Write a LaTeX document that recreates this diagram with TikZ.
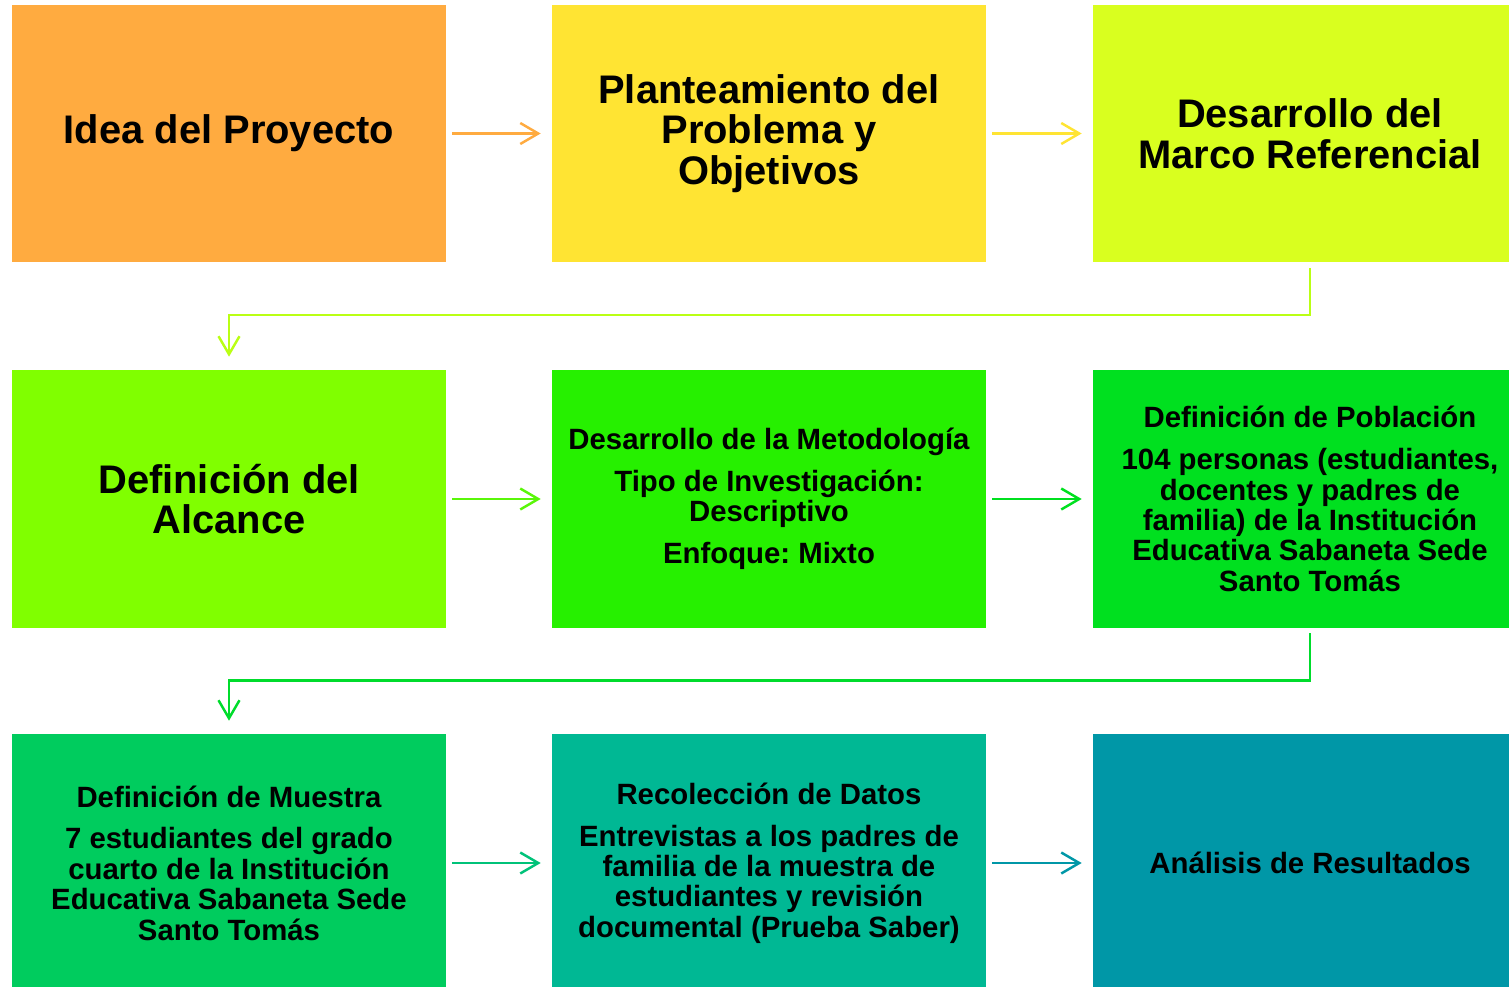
\documentclass[tikz,border=0pt]{standalone}
\usepackage{fontspec}
\setmainfont{Liberation Sans}
\usepackage{xcolor}
\usetikzlibrary{arrows.meta, positioning}

\definecolor{cIdea}{HTML}{FFAB40}
\definecolor{cProblema}{HTML}{FFE433}
\definecolor{cMarco}{HTML}{D9FF1F}
\definecolor{cAlcance}{HTML}{80FF00}
\definecolor{cMetodo}{HTML}{26F000}
\definecolor{cPoblacion}{HTML}{00E01F}
\definecolor{cMuestra}{HTML}{00CC5E}
\definecolor{cDatos}{HTML}{00B894}
\definecolor{cAnalisis}{HTML}{0097A7}

\begin{document}
\frenchspacing
\begin{tikzpicture}[
    x=0.02cm, y=-0.02cm,
    fase/.style={rectangle, minimum width=8.68cm, minimum height=5.16cm, inner sep=0pt, align=center, font=\bfseries\fontsize{22.7}{23.2}\selectfont},
    detalle/.style={fase, font=\bfseries\fontsize{16.7}{17.3}\selectfont},
    arrow/.style={-{Straight Barb[length=0.36cm, width=0.42cm]}, line width=1.4pt, shorten <=0.12cm, shorten >=0.22cm},
    elbow/.style={arrow, shorten <=0.1cm, shorten >=0.26cm}
]
    \useasboundingbox (0,0) rectangle (1509,987);
    \clip (0,0) rectangle (1509,987);

    % Fila 1
    \node[fase, fill=cIdea] (idea) at (229,133.5) {Idea del Proyecto};
    \node[fase, fill=cProblema] (problema) at (769,133.5) {Planteamiento del\\Problema y\\Objetivos};
    \node[fase, fill=cMarco] (marco) at (1310,133.5) {Desarrollo del\\Marco Referencial};

    % Fila 2
    \node[fase, fill=cAlcance] (alcance) at (229,499) {Definición del\\Alcance};
    \node[detalle, fill=cMetodo] (metodo) at (769,499) {Desarrollo de la Metodología\\[6.5pt]Tipo de Investigación:\\Descriptivo\\[6.5pt]Enfoque: Mixto};
    \node[detalle, fill=cPoblacion] (poblacion) at (1310,499) {Definición de Población\\[6.5pt]104 personas (estudiantes,\\docentes y padres de\\familia) de la Institución\\Educativa Sabaneta Sede\\Santo Tomás};

    % Fila 3
    \node[detalle, fill=cMuestra] (muestra) at (229,863) {Definición de Muestra\\[6.5pt]7 estudiantes del grado\\cuarto de la Institución\\Educativa Sabaneta Sede\\Santo Tomás};
    \node[detalle, fill=cDatos] (datos) at (769,863) {Recolección de Datos\\[6.5pt]Entrevistas a los padres de\\familia de la muestra de\\estudiantes y revisión\\documental (Prueba Saber)};
    \node[detalle, fill=cAnalisis] (analisis) at (1310,863) {Análisis de Resultados};

    % Flechas
    \draw[arrow, cIdea] (idea) -- (problema);
    \draw[arrow, cProblema] (problema) -- (marco);
    \draw[elbow, cMarco!65!cAlcance] (marco.south) -- ++(0,52) -| (alcance.north);
    \draw[arrow, cAlcance!70!cPoblacion] (alcance) -- (metodo);
    \draw[arrow, cPoblacion] (metodo) -- (poblacion);
    \draw[elbow, cPoblacion!80!cMuestra] (poblacion.south) -- ++(0,52) -| (muestra.north);
    \draw[arrow, cMuestra!50!cDatos] (muestra) -- (datos);
    \draw[arrow, cAnalisis] (datos) -- (analisis);
\end{tikzpicture}
\end{document}
